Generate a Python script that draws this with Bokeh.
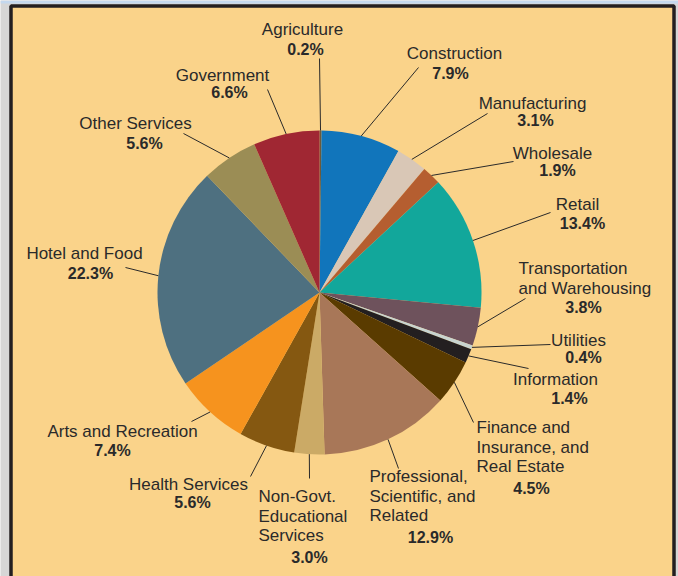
import math
from bokeh.plotting import figure
from bokeh.models import Range1d, ColumnDataSource
from bokeh.embed import file_html
from bokeh.resources import INLINE
from bokeh.core.properties import value

# ---------------- data ----------------
categories = ["Agriculture", "Construction", "Manufacturing", "Wholesale", "Retail",
              "Transportation and Warehousing", "Utilities", "Information",
              "Finance and Insurance, and Real Estate",
              "Professional, Scientific, and Related",
              "Non-Govt. Educational Services", "Health Services",
              "Arts and Recreation", "Hotel and Food", "Other Services", "Government"]
shares = [0.2, 7.9, 3.1, 1.9, 13.4, 3.8, 0.4, 1.4, 4.5, 12.9, 3.0, 5.6, 7.4, 22.3, 5.6, 6.6]
label_lines = [["Agriculture"], ["Construction"], ["Manufacturing"], ["Wholesale"], ["Retail"],
               ["Transportation", "and Warehousing"], ["Utilities"], ["Information"],
               ["Finance and", "Insurance, and", "Real Estate"],
               ["Professional,", "Scientific, and", "Related"],
               ["Non-Govt.", "Educational", "Services"], ["Health Services"],
               ["Arts and Recreation"], ["Hotel and Food"], ["Other Services"], ["Government"]]

# ---------------- styles / layout ----------------
colors = ["#6b5a3a", "#1175BB", "#D9C7B6", "#B55E30", "#12A79B", "#6E525C", "#C8D4D0",
          "#231F20", "#5A3B00", "#A87758", "#CBAA66", "#855811", "#F6931E", "#4E7080",
          "#9B8D55", "#A02733"]
BG = "#FAD38A"
OUTER = "#D6D6D6"
FRAME = "#231F20"
INK = "#2a2a2a"

# label layout in pixels (x, first-line y, align, pct x, pct y, leader end x, leader end y)
name_x = [302, 454, 532, 552, 577, 518, 578, 555, 476, 369, 258, 188, 122, 84, 135, 222]
name_y = [29, 53, 103, 153, 204, 268, 340, 379, 427, 476, 496, 484, 431, 253, 123, 75]
name_al = ["center", "center", "center", "center", "center", "left", "center", "center",
           "left", "left", "left", "center", "center", "center", "center", "center"]
pct_x = [305, 450, 535, 557, 582, 583, 583, 569, 531, 430, 309, 192, 112, 90, 144, 229]
pct_y = [49, 73, 120, 170, 223, 307, 357, 398, 488, 537, 557, 502, 450, 273, 143, 92]
lead_x = [319, 418, 487, 513, 550, 525, 550, 528, 473, 398, 309, 250, 191, 125, 183, 267]
lead_y = [58, 67, 113, 161, 212, 298, 344, 368, 422, 468, 478, 476, 421, 267, 133, 89]
LINE_STEP = 19.7

CX, CY, R = 319, 292, 162  # pie centre / radius in pixels
W, H = 678, 576

p = figure(width=W, height=H, output_backend="svg", toolbar_location=None,
           x_range=Range1d(0, W), y_range=Range1d(-H, 0),
           x_axis_type=None, y_axis_type=None, min_border=0)
p.grid.visible = False
p.background_fill_color = OUTER
p.border_fill_color = OUTER
p.outline_line_color = None

# light strip along the top, then the tan panel with dark frame (left, top, right edges)
p.quad(left=[0], right=[W], top=[0], bottom=[-3], fill_color="#C4D8EE", line_color=None)
p.quad(left=[10.5], right=[673.5], top=[-5.5], bottom=[-(H + 20)],
       fill_color=BG, line_color=FRAME, line_width=3.5)

# wedges
total = sum(shares)
starts, ends, mids = [], [], []
cum = 0.0
for s in shares:
    a0 = math.pi / 2 - 2 * math.pi * (cum + s) / total
    a1 = math.pi / 2 - 2 * math.pi * cum / total
    starts.append(a0)
    ends.append(a1)
    mids.append((a0 + a1) / 2)
    cum += s

src = ColumnDataSource(dict(start=starts, end=ends, color=colors, cat=categories, share=shares))
p.wedge(x=CX, y=-CY, radius=R, start_angle="start", end_angle="end",
        fill_color="color", line_color=None, direction="anticlock", source=src)

# leader lines
x0 = [CX + R * math.cos(m) for m in mids]
y0 = [-CY + R * math.sin(m) for m in mids]
p.segment(x0=x0, y0=y0, x1=lead_x, y1=[-v for v in lead_y], line_color=INK, line_width=1)

# labels
groups = {"center": dict(x=[], y=[], t=[]), "left": dict(x=[], y=[], t=[])}
for i, lines in enumerate(label_lines):
    g = groups[name_al[i]]
    for k, ln in enumerate(lines):
        g["x"].append(name_x[i])
        g["y"].append(-(name_y[i] + k * LINE_STEP))
        g["t"].append(ln)
for al, g in groups.items():
    p.text(x=g["x"], y=g["y"], text=g["t"], text_align=al, text_baseline="middle",
           text_font=value("Liberation Sans"), text_font_size="17px", text_color=INK)

p.text(x=pct_x, y=[-v for v in pct_y], text=[f"{s:.1f}%" for s in shares],
       text_align="center", text_baseline="middle", text_font=value("Liberation Sans"),
       text_font_size="16px", text_font_style="bold", text_color=INK)

open("out.html", "w").write(file_html(p, INLINE))
